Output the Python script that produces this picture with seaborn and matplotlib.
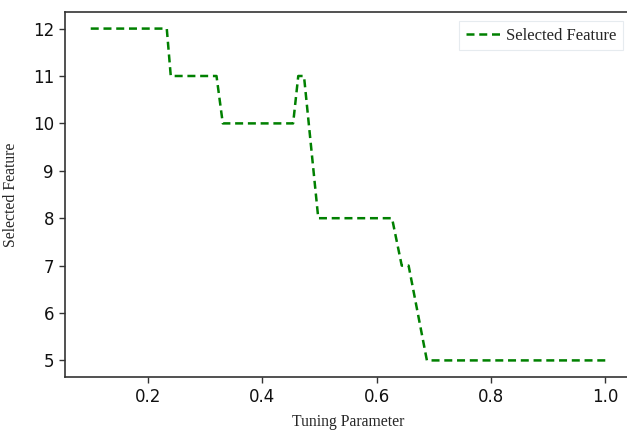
import matplotlib
matplotlib.use("Agg")
import matplotlib.pyplot as plt
import seaborn as sns
import pandas as pd

# Data (vertices of the step-like line)
tuning_parameter = [0.10, 0.233, 0.240, 0.320, 0.331, 0.454, 0.463, 0.473, 0.498,
                    0.627, 0.644, 0.656, 0.688, 1.00]
selected_feature = [12, 12, 11, 11, 10, 10, 11, 11, 8, 8, 7, 7, 5, 5]
x_ticks = [0.2, 0.4, 0.6, 0.8, 1.0]
y_ticks = [5, 6, 7, 8, 9, 10, 11, 12]

df = pd.DataFrame({"Tuning Parameter": tuning_parameter,
                   "Selected Feature": selected_feature})

sns.set_style("ticks")
plt.rcParams['font.family'] = ['DejaVu Sans']

fig = plt.figure(figsize=(6.27, 4.30), dpi=100)
ax = fig.add_axes([65 / 627, 53 / 430, 566 / 627, 365 / 430])

sns.lineplot(data=df, x="Tuning Parameter", y="Selected Feature", ax=ax,
             color="#008000", linewidth=1.8, dashes=False,
             label="Selected Feature", sort=False)
line = ax.get_lines()[0]
line.set_dashes((3.2, 1.9))

ax.set_xticks(x_ticks)
ax.set_yticks(y_ticks)
ax.set_xticklabels([f"{v:.1f}" for v in x_ticks], fontsize=12, color="#111111")
ax.set_yticklabels([str(v) for v in y_ticks], fontsize=12, color="#111111")
ax.set_xlim(0.055, 1.045)
ax.set_ylim(4.65, 12.35)

for name, s in ax.spines.items():
    s.set_visible(name != "right")
    s.set_color("#333333")
    s.set_linewidth(1.2)

ax.tick_params(axis="both", direction="out", length=4, width=1, color="#333333", pad=4)

ax.set_xlabel("Tuning Parameter", family=["Liberation Serif"], fontsize=11.3, labelpad=6)
ax.set_ylabel("Selected Feature", family=["Liberation Serif"], fontsize=11.3, labelpad=10)

leg = ax.legend(loc="upper right", bbox_to_anchor=(623 / 627, (430 - 21) / 430),
                bbox_transform=fig.transFigure, borderaxespad=0,
                prop={"family": "Liberation Serif", "size": 12},
                handlelength=2.1, handletextpad=0.3, frameon=True, fancybox=False)
leg.get_frame().set_edgecolor("#e0e6ec")
leg.get_frame().set_linewidth(0.8)
leg.get_lines()[0].set_dashes((3.2, 1.9))

fig.savefig("out.png", dpi=100)
